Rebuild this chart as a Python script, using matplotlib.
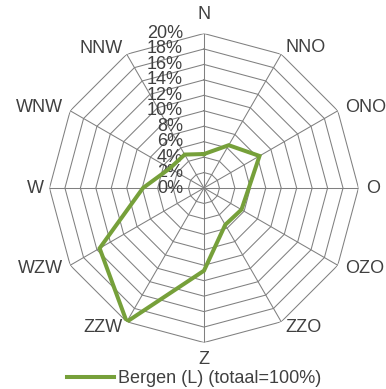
import numpy as np
import matplotlib
matplotlib.use("Agg")
import matplotlib.pyplot as plt

plt.rcParams['font.family'] = ['Liberation Sans', 'DejaVu Sans']

# windrichtingen en aandeel (%)
richtingen = ['N', 'NNO', 'ONO', 'O', 'OZO', 'ZZO', 'Z', 'ZZW', 'WZW', 'W', 'WNW', 'NNW']
bergen = [4.4, 6.4, 8.3, 5.8, 5.6, 5.5, 10.7, 20.0, 15.6, 7.9, 5.1, 5.0]
ringen = [0, 2, 4, 6, 8, 10, 12, 14, 16, 18, 20]
ring_labels = ['0%', '2%', '4%', '6%', '8%', '10%', '12%', '14%', '16%', '18%', '20%']
serie_naam = 'Bergen (L) (totaal=100%)'

groen = '#76a03a'
grijs = '#808080'
tekst = '#404040'

n = len(richtingen)
theta = np.arange(n) * 2 * np.pi / n
theta_d = np.append(theta, theta[0])

fig = plt.figure(figsize=(3.86, 3.89), dpi=100)
ax = fig.add_axes([0.1282, 0.1195, 0.8005, 0.7943], projection='polar')
ax.set_theta_zero_location('N')
ax.set_theta_direction(-1)
ax.set_ylim(0, ringen[-1])
ax.grid(False)
ax.spines['polar'].set_visible(False)
ax.set_xticks([])
ax.set_yticks([])

# veelhoekig raster
for r in ringen[1:]:
    ax.plot(theta_d, [r] * (n + 1), color=grijs, lw=0.75, zorder=1)
for t in theta:
    ax.plot([t, t], [0, ringen[-1]], color=grijs, lw=0.75, zorder=1)

# ring labels langs de N-as
for r, lab in zip(ringen, ring_labels):
    ax.annotate(lab, xy=(0, r), xytext=(-21, 0), textcoords='offset pixels',
                ha='right', va='center', fontsize=13, color=tekst, zorder=2)

# richtingslabels
offsets = {
    'N': (0, 19, 'center'), 'NNO': (4, 7, 'left'), 'ONO': (7, 3, 'left'),
    'O': (8, 0, 'left'), 'OZO': (7, -3, 'left'), 'ZZO': (4, -6, 'left'),
    'Z': (0, -17, 'center'), 'ZZW': (-4, -6, 'right'), 'WZW': (-7, -3, 'right'),
    'W': (-6, 0, 'right'), 'WNW': (-7, 3, 'right'), 'NNW': (-4, 6, 'right'),
}
for t, lab in zip(theta, richtingen):
    dx, dy, ha = offsets[lab]
    ax.annotate(lab, xy=(t, ringen[-1]), xytext=(dx, dy), textcoords='offset pixels',
                ha=ha, va='center', fontsize=13, color=tekst, annotation_clip=False)

ax.plot(theta_d, bergen + bergen[:1], color=groen, lw=2.9,
        solid_joinstyle='miter', zorder=3, label=serie_naam)

fig.legend(loc='center', bbox_to_anchor=(0.503, 0.027), frameon=False,
           fontsize=13, handlelength=2.6, handletextpad=0.2, borderpad=0,
           labelcolor=tekst)

fig.savefig('out.png', dpi=100)
